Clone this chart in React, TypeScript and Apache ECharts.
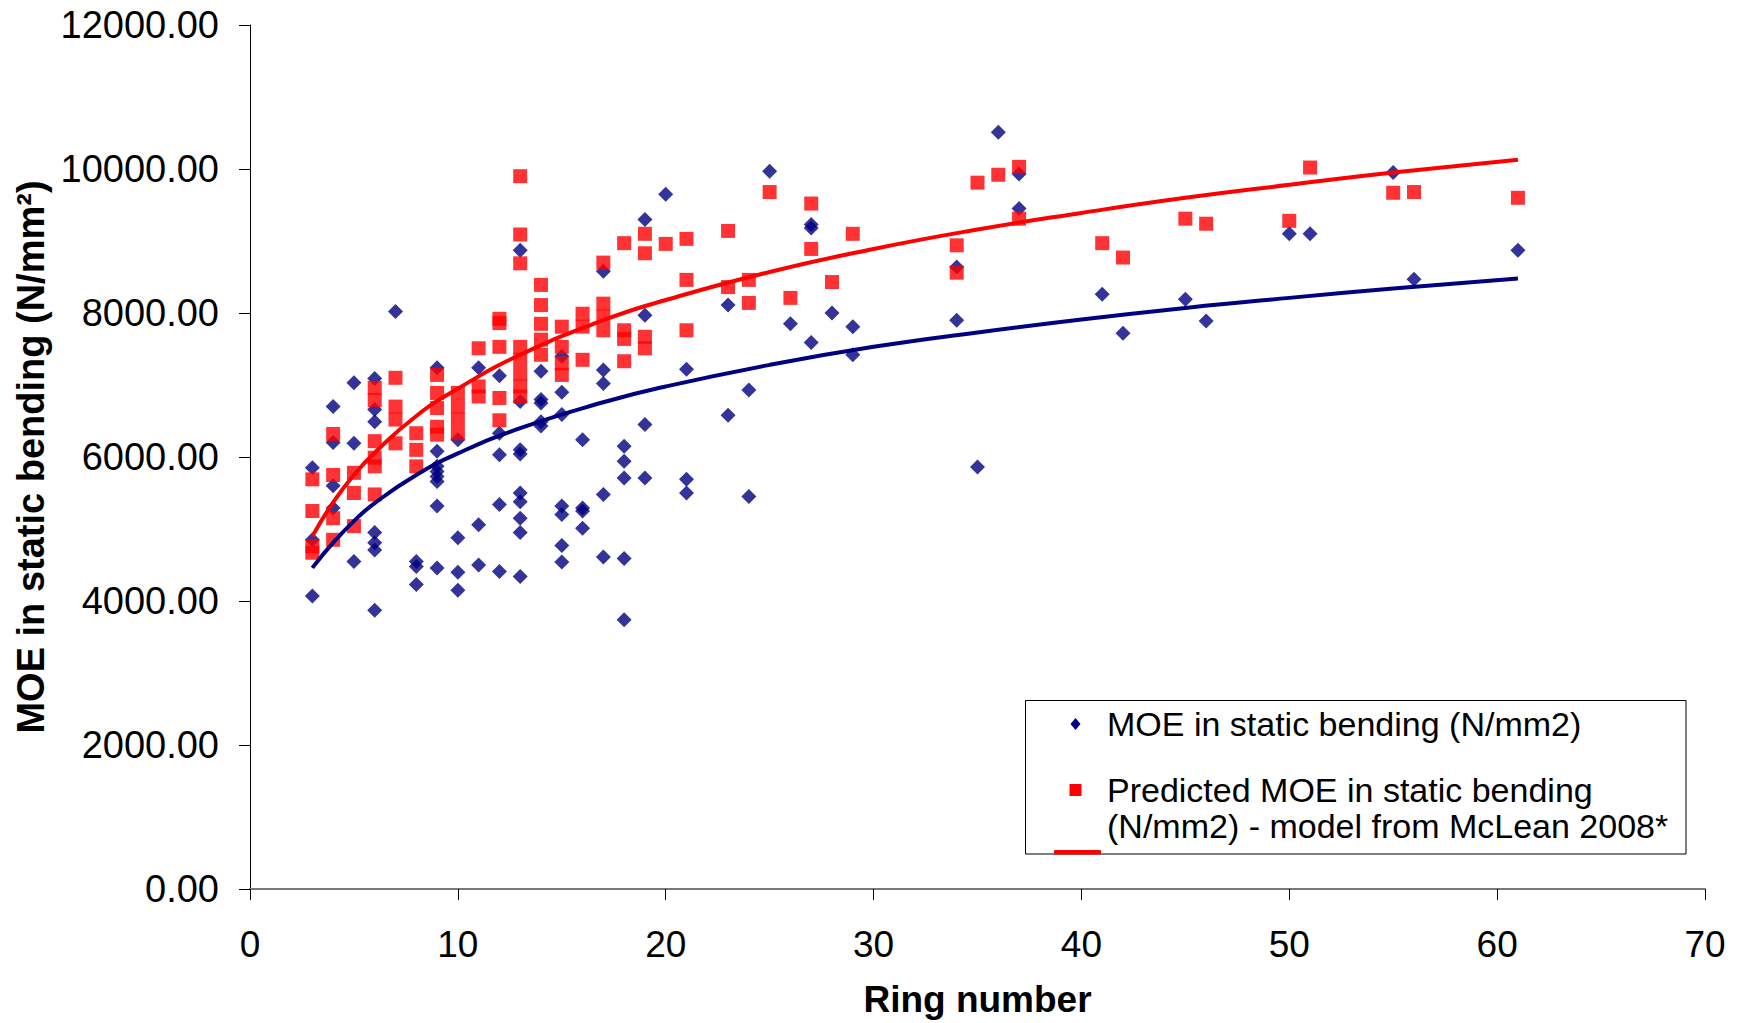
import React, { useEffect, useRef } from "react";
import * as echarts from "echarts";

// MOE in static bending (N/mm2) — measured, grouped by ring number
const moeByRing: [number, number[]][] = [
  [3, [5850, 4850, 4070]],
  [4, [6700, 6200, 5600, 5290]],
  [5, [7030, 6190, 4550]],
  [6, [7090, 6660, 6490, 4950, 4810, 4710, 3870]],
  [7, [8020]],
  [8, [4550, 4480, 4230]],
  [9, [7240, 6080, 5870, 5800, 5730, 5660, 5320, 4460]],
  [10, [6240, 4880, 4400, 4150]],
  [11, [7240, 5060, 4500]],
  [12, [7130, 6330, 6030, 5340, 4410]],
  [13, [8870, 6770, 6100, 6040, 5500, 5380, 5150, 4950, 4340]],
  [14, [7190, 6800, 6750, 6490, 6430]],
  [15, [7400, 6900, 6590, 5320, 5200, 4770, 4540]],
  [16, [6240, 5290, 5250, 5010]],
  [17, [8580, 7210, 7020, 5480, 4610]],
  [18, [6150, 5940, 5710, 4590, 3740]],
  [19, [9300, 7970, 6450, 5710]],
  [20, [9650]],
  [21, [7220, 5690, 5500]],
  [23, [8110, 6580]],
  [24, [6930, 5450]],
  [25, [9970]],
  [26, [7850]],
  [27, [9230, 9180, 7590]],
  [28, [8000]],
  [29, [7810, 7420]],
  [34, [8640, 7900]],
  [35, [5860]],
  [36, [10510]],
  [37, [9930, 9450]],
  [41, [8260]],
  [42, [7720]],
  [45, [8190]],
  [46, [7890]],
  [50, [9100]],
  [51, [9100]],
  [55, [9950]],
  [56, [8470]],
  [61, [8870]],
];

// Predicted MOE in static bending (N/mm2) — model from McLean 2008
const predByRing: [number, number[]][] = [
  [3, [5690, 5250, 4760, 4670]],
  [4, [6320, 5750, 5150, 4850]],
  [5, [5780, 5500, 5040]],
  [6, [6960, 6790, 6220, 5990, 5870, 5480]],
  [7, [7100, 6700, 6520, 6190]],
  [8, [6330, 6100, 5870]],
  [9, [7140, 6890, 6680, 6420, 6310]],
  [10, [6890, 6700, 6520, 6330]],
  [11, [7510, 6980, 6840]],
  [12, [7920, 7860, 7530, 6820, 6510]],
  [13, [9900, 9090, 8690, 7530, 7350, 7160, 6980, 6840]],
  [14, [8390, 8110, 7850, 7630, 7420]],
  [15, [7810, 7530, 7300, 7140]],
  [16, [7990, 7810, 7350]],
  [17, [8700, 8130, 7950, 7760]],
  [18, [8970, 7760, 7640, 7330]],
  [19, [9100, 8830, 7670, 7510]],
  [20, [8960]],
  [21, [9030, 8460, 7760]],
  [23, [9140, 8360]],
  [24, [8460, 8140]],
  [25, [9680]],
  [26, [8210]],
  [27, [9520, 8890]],
  [28, [8430]],
  [29, [9100]],
  [34, [8940, 8560]],
  [35, [9810]],
  [36, [9920]],
  [37, [10030, 9310]],
  [41, [8970]],
  [42, [8770]],
  [45, [9310]],
  [46, [9240]],
  [50, [9280]],
  [51, [10020]],
  [55, [9670]],
  [56, [9680]],
  [61, [9600]],
];

// Trend lines
const trendRings = [3, 4, 5, 6, 8, 10, 13, 17, 20, 25, 30, 35, 40, 45, 50, 55, 61];
const moeTrend = [4460, 4810, 5110, 5360, 5750, 6050, 6400, 6760, 6980, 7280, 7530, 7730, 7910, 8070, 8210, 8340, 8480];
const predTrend = [4900, 5370, 5750, 6060, 6570, 6950, 7420, 7900, 8180, 8570, 8890, 9160, 9390, 9600, 9780, 9950, 10130];

const legendLabels = [
  "MOE in static bending (N/mm2)",
  "Predicted MOE in static bending",
  "(N/mm2) - model from McLean 2008*",
];

const NAVY = "#000080";
const RED = "#FF0000";
const FONT = "'Liberation Sans', Arial, sans-serif";

export default function App() {
  const ref = useRef<HTMLDivElement>(null);

  useEffect(() => {
    if (!ref.current) return;
    const chart = echarts.init(ref.current, undefined, { renderer: "svg" });

    const flat = (g: [number, number[]][]) =>
      g.flatMap(([r, vs]) => vs.map((v) => [r, v]));

    chart.setOption({
      animation: false,
      backgroundColor: "#ffffff",
      textStyle: { fontFamily: FONT },
      grid: { left: 250, right: 39, top: 25, bottom: 133, containLabel: false },
      xAxis: {
        type: "value",
        min: 0,
        max: 70,
        interval: 10,
        name: "Ring number",
        nameLocation: "middle",
        nameGap: 92,
        nameTextStyle: { fontSize: 37, fontWeight: "bold", color: "#000", fontFamily: FONT },
        axisLine: { show: true, onZero: false, lineStyle: { color: "#7a7a7a", width: 2 } },
        axisTick: { show: true, inside: false, length: 11, lineStyle: { color: "#000", width: 1 } },
        axisLabel: { fontSize: 37, color: "#000", margin: 37, fontFamily: FONT },
        splitLine: { show: false },
      },
      yAxis: {
        type: "value",
        min: 0,
        max: 12000,
        interval: 2000,
        name: "MOE in static bending (N/mm²)",
        nameLocation: "middle",
        nameGap: 196,
        nameTextStyle: { fontSize: 38, fontWeight: "bold", color: "#000", fontFamily: FONT },
        axisLine: { show: true, lineStyle: { color: "#000", width: 1 } },
        axisTick: { show: true, inside: false, length: 11, lineStyle: { color: "#000", width: 1 } },
        axisLabel: {
          fontSize: 38,
          color: "#000",
          margin: 31,
          fontFamily: FONT,
          formatter: (v: number) => v.toFixed(2),
        },
        splitLine: { show: false },
      },
      series: [
        {
          name: "MOE in static bending (N/mm2)",
          type: "scatter",
          symbol: "diamond",
          symbolSize: 15,
          itemStyle: { color: NAVY },
          data: flat(moeByRing),
          z: 2,
        },
        {
          name: "Predicted MOE in static bending (N/mm2) - model from McLean 2008*",
          type: "scatter",
          symbol: "rect",
          symbolSize: 14,
          itemStyle: { color: RED },
          data: flat(predByRing),
          z: 3,
        },
        {
          name: "Log. (MOE in static bending (N/mm2))",
          type: "line",
          smooth: true,
          showSymbol: false,
          lineStyle: { color: NAVY, width: 4 },
          data: trendRings.map((r, i) => [r, moeTrend[i]]),
          z: 4,
        },
        {
          name: "Log. (Predicted MOE)",
          type: "line",
          smooth: true,
          showSymbol: false,
          lineStyle: { color: RED, width: 4 },
          data: trendRings.map((r, i) => [r, predTrend[i]]),
          z: 5,
        },
      ],
      graphic: [
        {
          type: "rect",
          shape: { x: 1025.5, y: 700.5, width: 660.5, height: 153.5 },
          style: { fill: "#ffffff", stroke: "#000", lineWidth: 1 },
          z: 10,
        },
        {
          type: "polygon",
          shape: {
            points: [
              [1070.5, 724],
              [1075.5, 718],
              [1080.5, 724],
              [1075.5, 730],
            ],
          },
          style: { fill: NAVY },
          z: 11,
        },
        {
          type: "rect",
          shape: { x: 1069.5, y: 784, width: 12, height: 12 },
          style: { fill: RED },
          z: 11,
        },
        {
          type: "rect",
          shape: { x: 1054, y: 850, width: 47, height: 4.5, r: 1 },
          style: { fill: RED },
          z: 11,
        },
        {
          type: "text",
          x: 1107,
          y: 724,
          style: {
            text: legendLabels[0],
            font: `34px ${FONT}`,
            fill: "#000",
            verticalAlign: "middle",
            align: "left",
          },
          z: 11,
        },
        {
          type: "text",
          x: 1107,
          y: 790,
          style: {
            text: legendLabels[1],
            font: `34px ${FONT}`,
            fill: "#000",
            verticalAlign: "middle",
            align: "left",
          },
          z: 11,
        },
        {
          type: "text",
          x: 1107,
          y: 826,
          style: {
            text: legendLabels[2],
            font: `34px ${FONT}`,
            fill: "#000",
            verticalAlign: "middle",
            align: "left",
          },
          z: 11,
        },
      ],
    });

    return () => chart.dispose();
  }, []);

  return (
    <div
      ref={ref}
      style={{ position: "fixed", left: 0, top: 0, width: 1744, height: 1023, background: "#fff" }}
    />
  );
}
